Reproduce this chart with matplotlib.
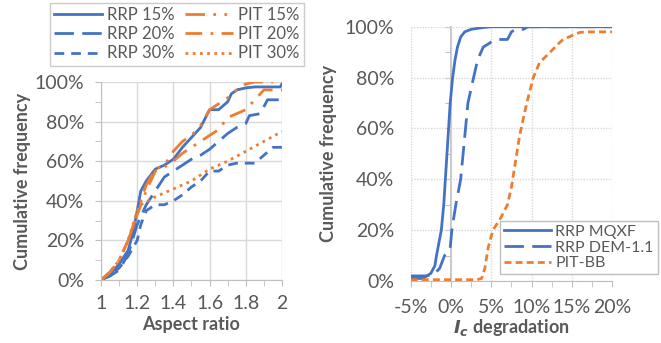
import numpy as np
import matplotlib
matplotlib.use("Agg")
import matplotlib.pyplot as plt
from matplotlib.ticker import MultipleLocator, FuncFormatter

plt.rcParams['font.family'] = ['Lato', 'DejaVu Sans']

BLUE = '#4472C4'
ORANGE = '#ED7D31'
GRID = '#D9D9D9'
AXIS = '#BFBFBF'
TEXT = '#595959'

# ---------------------------------------------------------------- #
# aspect ratio CDFs (x = aspect ratio, y = cumulative frequency %)
rrp15_x = [1.0, 1.05, 1.1, 1.15, 1.18, 1.2, 1.22, 1.25, 1.3, 1.35, 1.4, 1.45, 1.5, 1.55, 1.6, 1.65, 1.7, 1.72, 1.75, 1.8, 1.85, 1.99, 2.0]
rrp15_y = [0, 3, 8, 15, 25, 35, 45, 50, 56, 58, 61, 67, 72, 77, 86, 86, 90, 94, 96, 97, 97.5, 97.5, 99]

rrp20_x = [1.0, 1.05, 1.1, 1.15, 1.2, 1.22, 1.25, 1.3, 1.35, 1.4, 1.45, 1.5, 1.55, 1.6, 1.65, 1.7, 1.75, 1.8, 1.82, 1.88, 1.92, 2.0]
rrp20_y = [0, 2, 5, 13, 28, 32, 38, 45, 52, 55, 58, 61, 63, 66, 70, 74, 77, 79, 83, 84, 91, 91]

rrp30_x = [1.0, 1.05, 1.1, 1.15, 1.2, 1.22, 1.25, 1.3, 1.35, 1.4, 1.45, 1.5, 1.55, 1.6, 1.65, 1.7, 1.75, 1.85, 1.9, 1.95, 2.0]
rrp30_y = [0, 3, 6, 12, 20, 28, 35, 38, 38, 40, 43, 47, 50, 55, 55, 58, 59, 59, 63, 67, 67]

pit15_x = [1.0, 1.05, 1.1, 1.15, 1.2, 1.22, 1.25, 1.3, 1.35, 1.4, 1.45, 1.5, 1.55, 1.6, 1.7, 1.75, 1.8, 1.85, 1.95]
pit15_y = [0, 4, 10, 20, 33, 40, 48, 56, 58, 65, 70, 73, 78, 86, 92, 96, 99, 100, 100]

pit20_x = [1.0, 1.05, 1.1, 1.15, 1.2, 1.25, 1.3, 1.35, 1.4, 1.45, 1.5, 1.55, 1.6, 1.65, 1.7, 1.75, 1.8, 1.85, 1.9, 1.95, 2.0]
pit20_y = [0, 4, 10, 20, 33, 45, 55, 57, 60, 64, 67, 70, 73, 76, 82, 84, 86, 91, 96, 96, 96]

pit30_x = [1.0, 1.05, 1.1, 1.15, 1.2, 1.22, 1.3, 1.4, 1.5, 1.6, 1.7, 1.8, 1.9, 2.0]
pit30_y = [0, 4, 10, 20, 35, 38, 42, 46, 50, 56, 60, 65, 70, 75]

# ---------------------------------------------------------------- #
# Ic degradation CDFs (x = degradation %, y = cumulative frequency %)
mqxf_x = [-5, -3, -2.5, -2, -1.8, -1.2, -0.9, -0.7, -0.5, -0.3, -0.1, 0.2, 0.5, 0.8, 1.2, 1.7, 2.5, 4, 5, 20]
mqxf_y = [2, 2, 3, 6, 10, 20, 30, 40, 50, 60, 70, 80, 87, 92, 96, 98, 99, 99.7, 100, 100]

dem_x = [-5, -3.5, -3, -2, -1.4, -0.8, -0.1, 0.1, 0.6, 1.2, 1.5, 1.8, 2.1, 2.8, 3.3, 4, 5, 5.7, 7, 7.5, 8, 9, 9.5, 20]
dem_y = [1, 1, 2, 3, 5, 10, 13, 20, 30, 40, 50, 60, 70, 80, 87, 92, 94, 95, 95, 98, 99, 99, 100, 100]

pitbb_x = [-5, 3.2, 3.8, 4.2, 4.6, 5.2, 6.2, 7, 7.5, 8, 8.5, 8.9, 9.4, 10.2, 11, 12.3, 13.2, 13.9, 15, 16, 17, 20]
pitbb_y = [0.5, 0.5, 1, 5, 13, 20, 25, 30, 37, 47, 57, 63, 70, 80, 86, 90, 93, 95, 96.5, 97.8, 98, 98]

pct = FuncFormatter(lambda v, p: f"{v:.0f}%")

fig = plt.figure(figsize=(6.61, 3.43), dpi=100)

# ---------------- #
# left panel: aspect ratio
ax1 = fig.add_axes([0.1528, 0.1837, 0.2738, 0.5773])
lw = 2.0
ax1.plot(rrp15_x, rrp15_y, color=BLUE, lw=lw, label='RRP 15%')
ax1.plot(rrp20_x, rrp20_y, color=BLUE, lw=lw, dashes=(7, 3), label='RRP 20%')
ax1.plot(rrp30_x, rrp30_y, color=BLUE, lw=lw, dashes=(3.5, 2.5), label='RRP 30%')
ax1.plot(pit15_x, pit15_y, color=ORANGE, lw=lw, dashes=(7, 3, 1, 3, 1, 3), label='PIT 15%')
ax1.plot(pit20_x, pit20_y, color=ORANGE, lw=lw, dashes=(6, 3, 1, 3), label='PIT 20%')
ax1.plot(pit30_x, pit30_y, color=ORANGE, lw=lw, dashes=(1, 1.6), label='PIT 30%')

ax1.set_xlim(1, 2)
ax1.set_ylim(0, 100)
ax1.xaxis.set_major_locator(MultipleLocator(0.2))
ax1.xaxis.set_minor_locator(MultipleLocator(0.1))
ax1.yaxis.set_major_locator(MultipleLocator(20))
ax1.yaxis.set_minor_locator(MultipleLocator(10))
ax1.xaxis.set_major_formatter(FuncFormatter(lambda v, p: f"{v:g}"))
ax1.yaxis.set_major_formatter(pct)
ax1.grid(True, which='major', color=GRID, lw=1.0)
ax1.set_axisbelow(True)
for s in ['top', 'right']:
    ax1.spines[s].set_visible(False)
for s in ['left', 'bottom']:
    ax1.spines[s].set_color(AXIS)
ax1.tick_params(which='both', direction='out', color=AXIS, length=4, labelsize=14, labelcolor=TEXT)
ax1.tick_params(axis='x', which='major', pad=7)
ax1.tick_params(axis='y', which='major', pad=8)
ax1.set_xlabel('Aspect ratio', fontsize=13, fontweight='bold', color=TEXT, labelpad=3)
ax1.set_ylabel('Cumulative frequency', fontsize=13, fontweight='bold', color=TEXT, labelpad=3)

h, l = ax1.get_legend_handles_labels()
leg1 = fig.legend(h, l, ncol=2, loc='center', fontsize=12,
                  frameon=True, fancybox=False, edgecolor=AXIS, handlelength=2.9,
                  columnspacing=0.6, handletextpad=0.3, labelspacing=0.2, borderpad=0.25,
                  bbox_to_anchor=(64 / 661, 1 - 64 / 343, 225 / 661, 60 / 343),
                  bbox_transform=fig.transFigure)
for t in leg1.get_texts():
    t.set_color(TEXT)

# ---------------- #
# right panel: Ic degradation
ax2 = fig.add_axes([0.6213, 0.1808, 0.3050, 0.7412])
ax2.plot(mqxf_x, mqxf_y, color=BLUE, lw=lw, label='RRP MQXF')
ax2.plot(dem_x, dem_y, color=BLUE, lw=lw, dashes=(7, 3), label='RRP DEM-1.1')
ax2.plot(pitbb_x, pitbb_y, color=ORANGE, lw=lw, dashes=(2.5, 1.5), label='PIT-BB')

ax2.set_xlim(-5, 20)
ax2.set_ylim(0, 100)
ax2.xaxis.set_major_locator(MultipleLocator(5))
ax2.xaxis.set_minor_locator(MultipleLocator(2.5))
ax2.yaxis.set_major_locator(MultipleLocator(20))
ax2.xaxis.set_major_formatter(pct)
ax2.yaxis.set_major_formatter(pct)
ax2.grid(True, which='major', color=GRID, lw=1.0, ls=(0, (1, 1)))
ax2.set_axisbelow(True)
for s in ['top', 'right', 'left']:
    ax2.spines[s].set_visible(False)
ax2.spines['bottom'].set_color(AXIS)
ax2.tick_params(axis='y', which='both', length=0, labelsize=14, labelcolor=TEXT, pad=12)
ax2.tick_params(axis='x', which='both', direction='out', color=AXIS, length=4, labelsize=14, labelcolor=TEXT)
ax2.tick_params(axis='x', which='major', pad=9)

# value axis crosses at 0%
yax = ax2.secondary_yaxis(0.2)
yax.spines['left'].set_color(AXIS)
yax.spines['left'].set_linewidth(1.3)
yax.yaxis.set_major_locator(MultipleLocator(10))
yax.tick_params(which='both', direction='out', color=AXIS, length=4, labelleft=False)

ax2.set_xlabel('$\\mathbfit{I}_\\mathbfit{c}$ degradation', fontsize=13, fontweight='bold', color=TEXT, labelpad=1)
ax2.set_ylabel('Cumulative frequency', fontsize=13, fontweight='bold', color=TEXT, labelpad=5)

leg2 = ax2.legend(loc='center', bbox_to_anchor=(505 / 661, 1 - 273 / 343, 148 / 661, 51 / 343),
                  bbox_transform=fig.transFigure, fontsize=11.5, frameon=True, fancybox=False,
                  edgecolor=AXIS, framealpha=1, handlelength=2.9, handletextpad=0.3,
                  labelspacing=0.1, borderpad=0.25, borderaxespad=0)
for t in leg2.get_texts():
    t.set_color(TEXT)

fig.savefig('out.png', dpi=100)
